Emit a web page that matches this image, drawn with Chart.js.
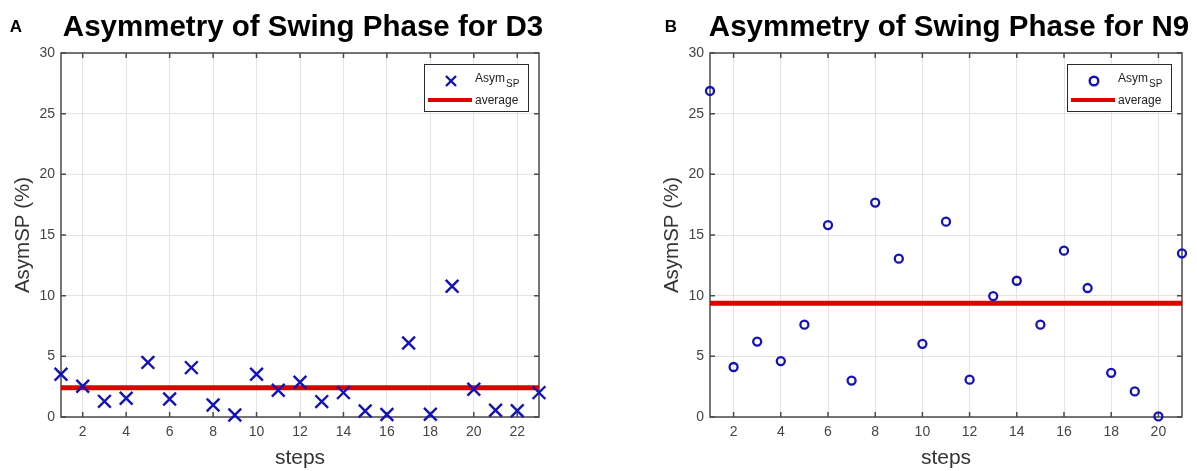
<!DOCTYPE html>
<html>
<head>
<meta charset="utf-8">
<script src="https://cdn.jsdelivr.net/npm/chart.js@4.4.1/dist/chart.umd.min.js"></script>
<style>
  body { margin: 0; background: #fff; }
  .panel { position: absolute; top: 0; height: 471px; }
  #panelA { left: 0; width: 598px; }
  #panelB { left: 598px; width: 599px; }
</style>
</head>
<body>
<div class="panel" id="panelA"><canvas id="chartA"></canvas></div>
<div class="panel" id="panelB"><canvas id="chartB"></canvas></div>
<script>
const stepsD3 = [1, 2, 3, 4, 5, 6, 7, 8, 9, 10, 11, 12, 13, 14, 15, 16, 17, 18, 19, 20, 21, 22, 23];
const asymD3 = [3.52, 2.53, 1.29, 1.54, 4.5, 1.48, 4.07, 0.99, 0.17, 3.52, 2.2, 2.86, 1.27, 2.01, 0.49, 0.2, 6.1, 0.22, 10.77, 2.28, 0.55, 0.52, 2.01];
const avgD3 = 2.42;

const stepsN9 = [1, 2, 3, 4, 5, 6, 7, 8, 9, 10, 11, 12, 13, 14, 15, 16, 17, 18, 19, 20, 21];
const asymN9 = [26.87, 4.12, 6.22, 4.61, 7.61, 15.82, 3.0, 17.67, 13.05, 6.03, 16.1, 3.08, 9.97, 11.23, 7.61, 13.71, 10.63, 3.64, 2.11, 0.05, 13.49];
const avgN9 = 9.37;

const xTicksD3 = [2, 4, 6, 8, 10, 12, 14, 16, 18, 20, 22];
const xTicksN9 = [2, 4, 6, 8, 10, 12, 14, 16, 18, 20];
const yTicks = [0, 5, 10, 15, 20, 25, 30];

const FONT = '"Liberation Sans", Arial, sans-serif';
const BLUE = "#1212b8";
const RED = "#e00000";

// title + panel letter, centred over the plot area
const panelTitle = {
  id: "panelTitle",
  afterDraw(chart, args, opts) {
    const { ctx, chartArea } = chart;
    ctx.save();
    ctx.fillStyle = "#000";
    ctx.textBaseline = "middle";
    ctx.textAlign = "center";
    ctx.font = "bold 29.5px " + FONT;
    ctx.fillText(opts.text, (chartArea.left + chartArea.right) / 2 + 3, 28);
    ctx.font = "bold 17px " + FONT;
    ctx.fillText(opts.letter, opts.letterX, 27);
    ctx.restore();
  },
};

// box with inward ticks on all four sides
const matlabFrame = {
  id: "matlabFrame",
  beforeDatasetsDraw(chart) {
    const { ctx, chartArea: a, scales } = chart;
    ctx.save();
    ctx.strokeStyle = "#4a4a4a";
    ctx.lineWidth = 1.5;
    ctx.strokeRect(a.left, a.top, a.right - a.left, a.bottom - a.top);
    ctx.beginPath();
    scales.x.ticks.forEach((t) => {
      const px = scales.x.getPixelForValue(t.value);
      ctx.moveTo(px, a.bottom);
      ctx.lineTo(px, a.bottom - 5);
      ctx.moveTo(px, a.top);
      ctx.lineTo(px, a.top + 5);
    });
    scales.y.ticks.forEach((t) => {
      const py = scales.y.getPixelForValue(t.value);
      ctx.moveTo(a.left, py);
      ctx.lineTo(a.left + 5, py);
      ctx.moveTo(a.right, py);
      ctx.lineTo(a.right - 5, py);
    });
    ctx.stroke();
    ctx.restore();
  },
};

// legend with subscript text
const legendBox = {
  id: "legendBox",
  afterDatasetsDraw(chart, args, opts) {
    const { ctx, chartArea } = chart;
    const w = 104;
    const h = 47;
    const x0 = chartArea.right - 11 - w;
    const y0 = chartArea.top + 11;
    ctx.save();
    ctx.fillStyle = "#fff";
    ctx.fillRect(x0, y0, w, h);
    ctx.strokeStyle = "#2a2a2a";
    ctx.lineWidth = 1;
    ctx.strokeRect(x0 + 0.5, y0 + 0.5, w, h);

    ctx.strokeStyle = BLUE;
    ctx.lineWidth = 2.4;
    ctx.beginPath();
    if (opts.marker === "circle") {
      ctx.arc(x0 + 27, y0 + 17, 4.3, 0, Math.PI * 2);
    } else {
      ctx.moveTo(x0 + 22, y0 + 12);
      ctx.lineTo(x0 + 32, y0 + 22);
      ctx.moveTo(x0 + 32, y0 + 12);
      ctx.lineTo(x0 + 22, y0 + 22);
    }
    ctx.stroke();

    ctx.strokeStyle = RED;
    ctx.lineWidth = 4;
    ctx.beginPath();
    ctx.moveTo(x0 + 4, y0 + 36);
    ctx.lineTo(x0 + 48, y0 + 36);
    ctx.stroke();

    ctx.fillStyle = "#222";
    ctx.textAlign = "left";
    ctx.textBaseline = "alphabetic";
    ctx.font = "12px " + FONT;
    ctx.fillText("Asym", x0 + 51, y0 + 18);
    const aw = ctx.measureText("Asym").width;
    ctx.font = "10px " + FONT;
    ctx.fillText("SP", x0 + 52 + aw, y0 + 23);
    ctx.font = "12px " + FONT;
    ctx.textBaseline = "middle";
    ctx.fillText("average", x0 + 51, y0 + 37);
    ctx.restore();
  },
};

function makeChart(canvasId, steps, values, avg, xTicks, marker, title, letter, letterX, padLeft, padRight) {
  const ctx = document.getElementById(canvasId).getContext("2d");
  return new Chart(ctx, {
    type: "scatter",
    data: {
      datasets: [
        {
          label: "Asym_SP",
          data: steps.map((s, i) => ({ x: s, y: values[i] })),
          pointStyle: marker,
          pointRadius: marker === "circle" ? 4 : 9,
          pointBorderWidth: marker === "circle" ? 2.3 : 2.4,
          borderColor: BLUE,
          backgroundColor: "rgba(0,0,0,0)",
          clip: false,
        },
        {
          type: "line",
          label: "average",
          data: [
            { x: steps[0], y: avg },
            { x: steps[steps.length - 1], y: avg },
          ],
          borderColor: RED,
          borderWidth: 5,
          pointRadius: 0,
          clip: false,
        },
      ],
    },
    options: {
      responsive: true,
      maintainAspectRatio: false,
      animation: false,
      layout: {
        padding: { left: padLeft, right: padRight, top: 53, bottom: 0 },
      },
      scales: {
        x: {
          type: "linear",
          min: steps[0],
          max: steps[steps.length - 1],
          afterBuildTicks: (scale) => {
            scale.ticks = xTicks.map((v) => ({ value: v }));
          },
          afterFit: (scale) => {
            scale.height = 54;
          },
          ticks: {
            color: "#444",
            font: { family: FONT, size: 14 },
            padding: 7,
            maxRotation: 0,
          },
          grid: { color: "#e4e4e4", lineWidth: 1, drawTicks: false },
          border: { display: false },
          title: {
            display: true,
            text: "steps",
            color: "#333",
            font: { family: FONT, size: 21 },
            padding: { top: 2, bottom: 0 },
          },
        },
        y: {
          min: 0,
          max: 30,
          afterBuildTicks: (scale) => {
            scale.ticks = yTicks.map((v) => ({ value: v }));
          },
          afterFit: (scale) => {
            scale.width = 61;
          },
          ticks: {
            color: "#444",
            font: { family: FONT, size: 14 },
            padding: 6,
          },
          grid: { color: "#e4e4e4", lineWidth: 1, drawTicks: false },
          border: { display: false },
          title: {
            display: true,
            text: "AsymSP (%)",
            color: "#333",
            font: { family: FONT, size: 20.5 },
            padding: { top: 11, bottom: 0 },
          },
        },
      },
      plugins: {
        legend: { display: false },
        tooltip: { enabled: false },
        panelTitle: { text: title, letter: letter, letterX: letterX },
        legendBox: { marker: marker },
      },
    },
    plugins: [panelTitle, matlabFrame, legendBox],
  });
}

makeChart("chartA", stepsD3, asymD3, avgD3, xTicksD3, "crossRot",
  "Asymmetry of Swing Phase for D3", "A", 16, 0, 59);
makeChart("chartB", stepsN9, asymN9, avgN9, xTicksN9, "circle",
  "Asymmetry of Swing Phase for N9", "B", 73, 51, 15);
</script>
</body>
</html>
